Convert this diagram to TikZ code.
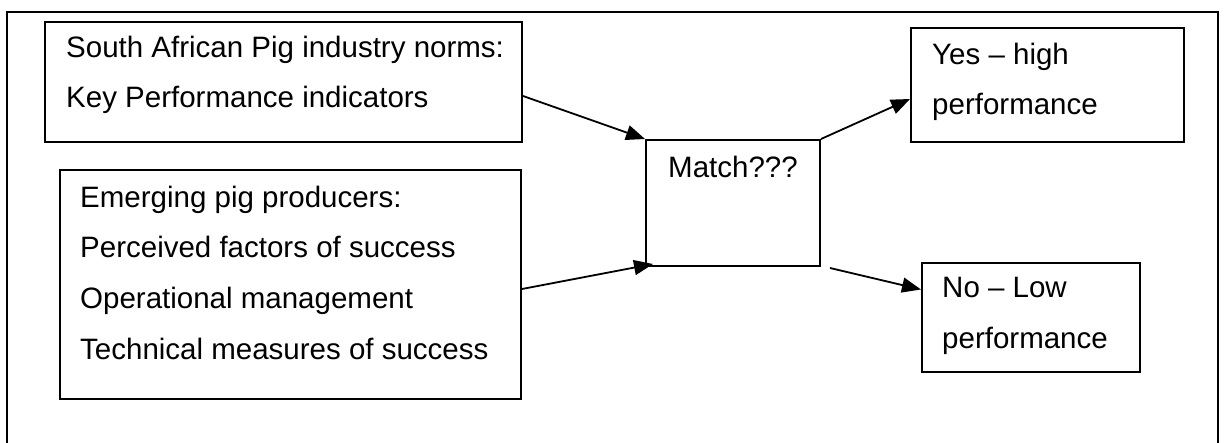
\documentclass[tikz,border=0pt]{standalone}
\usepackage{fontspec}
\setmainfont{Liberation Sans}
\usetikzlibrary{arrows.meta}

\tikzset{
  box/.style={draw, line width=2pt, inner sep=0pt, anchor=north west},
  boxtext/.style={anchor=north west, inner sep=0pt, align=left, font=\fontsize{29.5}{50.8}\selectfont},
  arr/.style={line width=1.8pt, -{Triangle[length=19pt, width=15pt]}}
}

\begin{document}
\begin{tikzpicture}[x=1pt, y=-1pt]
  \useasboundingbox (0,0) rectangle (1226,443);
  % outer frame, bottom edge is cut off
  \draw[line width=2pt] (7,460) -- (7,12) -- (1218,12) -- (1218,460);

  % boxes: top left corner, then size
  \node[box, minimum width=477pt, minimum height=120pt] (sa) at (44,21) {};
  \node[box, minimum width=461pt, minimum height=229pt] (em) at (59,169) {};
  \node[box, minimum width=174pt, minimum height=126pt] (match) at (645,139) {};
  \node[box, minimum width=273pt, minimum height=114pt] (yes) at (910,27) {};
  \node[box, minimum width=218pt, minimum height=109pt] (no) at (921,262) {};

  % texts
  \node[boxtext] (satext) at ([shift={(22,14.5)}]sa.north west)
    {South African Pig industry norms:\\Key Performance indicators};
  \node[boxtext] (emtext) at ([shift={(21,16.5)}]em.north west)
    {Emerging pig producers:\\Perceived factors of success\\Operational management\\Technical measures of success};
  \node[boxtext, anchor=north] (matchtext) at ([yshift=-16.5pt]match.north) {Match???};
  \node[boxtext] (yestext) at ([shift={(22,15.5)}]yes.north west) {Yes \textendash{} high\\performance};
  \node[boxtext] (notext) at ([shift={(21,15.5)}]no.north west) {No \textendash{} Low\\performance};

  % arrows
  \draw[arr] ([yshift=-14pt]sa.east) -- (match.north west);
  \draw[arr] ([yshift=-4.5pt]em.east) -- ([xshift=8pt, yshift=3pt]match.south west);
  \draw[arr] (match.north east) -- ([yshift=-14pt]yes.west);
  \draw[arr] ([xshift=9pt, yshift=-1pt]match.south east) -- ([yshift=28pt]no.west);
\end{tikzpicture}
\end{document}
